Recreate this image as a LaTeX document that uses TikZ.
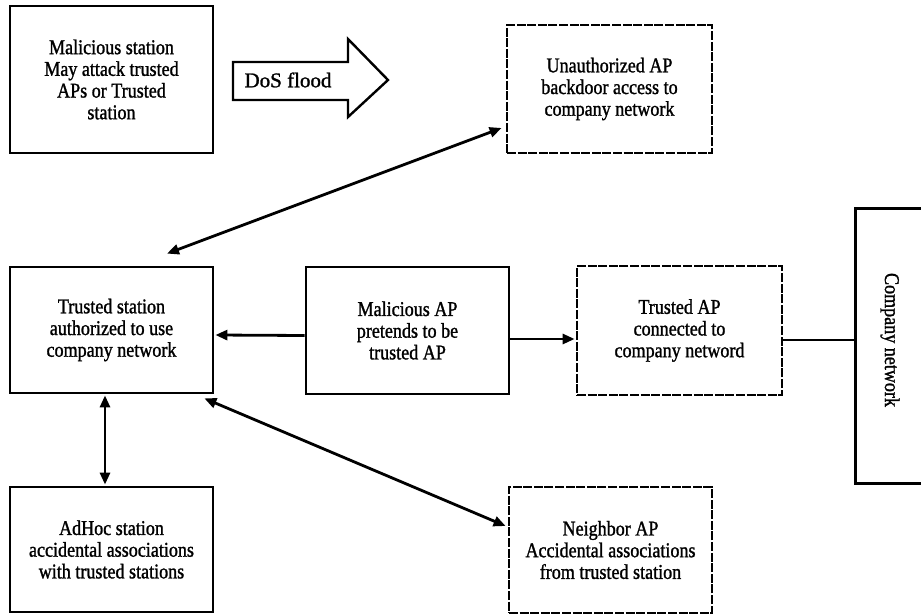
\documentclass[tikz,border=0pt]{standalone}
\usepackage{fontspec}
\setmainfont{Liberation Serif}[FakeStretch=0.86,FakeBold=1.2]
\newfontfamily\dosfont{Liberation Serif}[FakeBold=1.2]
\usetikzlibrary{arrows.meta,calc}
\tikzset{
  box/.style={draw, line width=2.8pt, align=center, inner sep=0pt,
    font=\fontsize{21}{21.7}\selectfont},
  dbox/.style={box, dash pattern=on 9pt off 1.6pt},
  conn/.style={line width=2.8pt, -{Triangle[length=12pt,width=10pt]}},
  bconn/.style={line width=2.8pt, {Triangle[length=12pt,width=10pt]}-{Triangle[length=12pt,width=10pt]}},
  plain/.style={line width=2.8pt}
}
\begin{document}
\begin{tikzpicture}[x=1pt,y=-1pt]
\useasboundingbox (0,0) rectangle (921,615);
\fill[white] (0,0) rectangle (921,615);
% boxes
\node[box, minimum width=203pt, minimum height=147pt] (ms) at (111.5,79.5)
  {Malicious station\\May attack trusted\\APs or Trusted\\station};
\node[dbox, minimum width=205pt, minimum height=128pt] (ua) at (609.5,89)
  {Unauthorized AP\\backdoor access to\\company network};
\node[box, minimum width=203pt, minimum height=126pt] (ts) at (111.5,330)
  {Trusted station\\authorized to use\\company network};
\node[box, minimum width=203pt, minimum height=127pt] (ma) at (407.5,330.5)
  {Malicious AP\\pretends to be\\trusted AP};
\node[dbox, minimum width=205pt, minimum height=129pt] (ta) at (679.5,330.5)
  {Trusted AP\\connected to\\company netword};
\node[box, minimum width=203pt, minimum height=125pt] (ah) at (111.5,549.5)
  {AdHoc station\\accidental associations\\with trusted stations};
\node[dbox, minimum width=203pt, minimum height=126pt] (na) at (610.5,550)
  {Neighbor AP\\Accidental associations\\from trusted station};
% company network (right side cut off)
\node[minimum width=65pt, minimum height=274pt, inner sep=0pt] (cn) at (888.5,346) {};
\draw[plain] (cn.north east) -- (cn.north west) -- (cn.south west) -- (cn.south east);
\node[rotate=-90, font=\fontsize{21}{21.7}\selectfont, inner sep=0pt] (cnt) at (890,340) {Company network};
% DoS flood arrow
\draw[line width=2.4pt, line join=miter] (233,62) -- (348,62) -- (348,39) -- (388,80) -- (348,117) -- (348,100) -- (233,100) -- cycle;
\node[font=\dosfont\fontsize{21}{21.7}\selectfont, inner sep=0pt] (dos) at (288,80) {DoS flood};
% connectors
\draw[bconn] ($(ua.west)+(-4,39)$) -- ($(ts.north)+(55.5,-12)$);
\draw[conn] ($(ma.west)+(0,5)$) -- ($(ts.east)+(1,5)$);
\draw[conn] ($(ma.east)+(0,8.5)$) -- ($(ta.west)+(-1,8.5)$);
\draw[bconn] ($(ts.south)+(-6.5,1)$) -- ($(ah.north)+(-6.5,-1)$);
\draw[bconn] ($(ts.south east)+(-10,4)$) -- ($(na.west)+(-2,-24)$);
\draw[plain] ($(ta.east)+(0,9.5)$) -- ($(cn.west)+(0,-6)$);
\end{tikzpicture}
\end{document}
